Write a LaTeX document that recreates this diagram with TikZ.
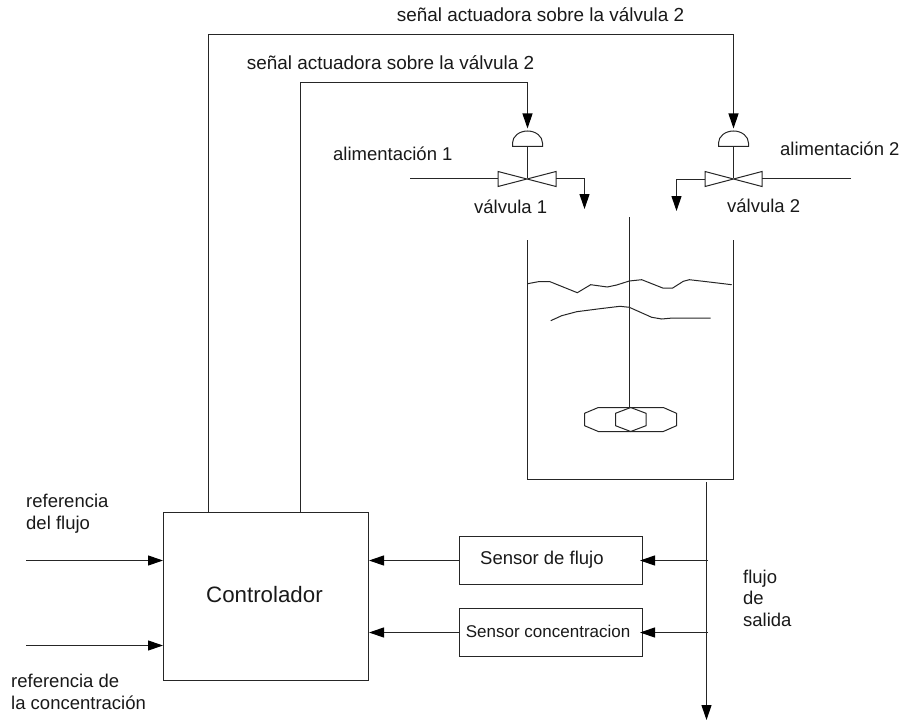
\documentclass[tikz,border=0pt]{standalone}
\usepackage{fontspec}
\setmainfont{Liberation Sans}
\usetikzlibrary{arrows.meta}
\tikzset{
  wire/.style={draw=black!85,line width=1.1pt},
  flow/.style={wire,-{Triangle[length=15pt,width=10pt]},arrows={[black]}},
  lbl/.style={inner sep=0pt,font=\fontsize{18.5}{22}\selectfont,align=left,text=black!90},
  blockbox/.style={draw=black!85,line width=1.1pt,inner sep=0pt,minimum height=48pt,minimum width=183pt},
  thin shape/.style={draw=black!85,line width=1pt}
}
\begin{document}
\begin{tikzpicture}[x=1pt,y=-1pt]
\useasboundingbox (0,0) rectangle (904,722);
% blocks
\node[draw=black!85,line width=1.1pt,minimum width=205pt,minimum height=168pt,inner sep=0pt] (ctrl) at (266,596.5) {};
\node[lbl,anchor=base west,font=\fontsize{22.3}{26}\selectfont] (ctrlt) at (206,602.7) {Controlador};
\node[blockbox] (sf) at (551,560.5) {};
\node[lbl,anchor=base west] (sft) at (480,564) {Sensor de flujo};
\node[blockbox] (sc) at (551,632.5) {};
\node[lbl,anchor=base west,font=\fontsize{17}{20}\selectfont] (sct) at (465.7,637) {Sensor concentracion};
% coordinates
\coordinate (c1) at (208.5,512.5);
\coordinate (c2) at (300.5,512.5);
\coordinate (in1) at (26,560.5);
\coordinate (in2) at (26,645.5);
\coordinate (ctrlA) at (163,560.5);
\coordinate (ctrlB) at (163,645.5);
\coordinate (ctrlC) at (369,560.5);
\coordinate (ctrlD) at (369,632.5);
\coordinate (out0) at (706.5,482);
\coordinate (out1) at (706.5,720);
\coordinate (tapA) at (708,560.5);
\coordinate (tapB) at (708,632.5);
\coordinate (sfin) at (640,560.5);
\coordinate (scin) at (640,632.5);
\coordinate (dome1) at (527.5,128.5);
\coordinate (dome2) at (733.5,128.5);
% connectors
\draw[flow] (c2) -- (300.5,82.5) -- (527.5,82.5) -- (dome1);
\draw[flow] (c1) -- (208.5,34.5) -- (733.5,34.5) -- (dome2);
\draw[flow] (in1) -- (ctrlA);
\draw[flow] (in2) -- (ctrlB);
\draw[flow] (sf.west) -- (ctrlC);
\draw[flow] (sc.west) -- (ctrlD);
\draw[flow] (tapA) -- (sfin);
\draw[flow] (tapB) -- (scin);
\draw[flow] (out0) -- (out1);
% valve 1
\coordinate (v1) at (527.5,178.5);
\draw[thin shape] (498,171.5) -- (556,186.5) -- (556,171.5) -- (498,186.5) -- cycle;
\draw[thin shape] (512.5,146.5) -- (512.5,143) arc[start angle=180,end angle=360,x radius=15,y radius=12] -- (542.5,146.5) -- cycle;
\draw[wire] (527.5,146.5) -- (v1);
\draw[wire] (410,178.5) -- (498,178.5);
\draw[flow] (556,178.5) -- (584.5,178.5) -- (584.5,209);
% valve 2
\coordinate (v2) at (733.5,178.5);
\draw[thin shape] (705,171.5) -- (762,186.5) -- (762,171.5) -- (705,186.5) -- cycle;
\draw[thin shape] (718.5,146.5) -- (718.5,143) arc[start angle=180,end angle=360,x radius=15,y radius=12] -- (748.5,146.5) -- cycle;
\draw[wire] (733.5,146.5) -- (v2);
\draw[wire] (851,178.5) -- (762,178.5);
\draw[flow] (705,179.5) -- (676.5,179.5) -- (676.5,211);
% tank
\draw[wire] (527.5,240) -- (527.5,479.5) -- (733.5,479.5) -- (733.5,240);
\draw[wire] (629.5,217) -- (629.5,407.5);
\draw[thin shape] (527.7,283.7) -- (538.3,281.7) -- (550,281.7) -- (577.3,292.7) -- (590.7,284.7) -- (607.3,287) -- (616.7,285) -- (629.3,281) -- (641.7,279.7) -- (662.7,288) -- (672.7,288) -- (683.3,281.3) -- (689.3,279.7) -- (706.7,281.7) -- (731.7,284.7);
\draw[thin shape] (550.7,320.7) -- (561.7,315.7) -- (576.7,311.7) -- (600,308.7) -- (620,306.3) -- (629.3,307.3) -- (651.7,317.3) -- (661.7,319) -- (672.7,318) -- (710.7,318);
\draw[thin shape] (598.3,407.5) -- (663.3,407.5) -- (676.5,413.3) -- (676.5,425.7) -- (663.3,431.5) -- (598.3,431.5) -- (584.5,425.7) -- (584.5,413.3) -- cycle;
\draw[thin shape] (630.7,407.5) -- (646,413.3) -- (646,425.7) -- (630.7,431.5) -- (615.5,425.7) -- (615.5,413.3) -- cycle;
% labels
\node[lbl,anchor=base west,font=\fontsize{18.93}{22}\selectfont] (t1) at (396.7,22) {señal actuadora sobre la válvula 2};
\node[lbl,anchor=base west,font=\fontsize{18.93}{22}\selectfont] (t2) at (246.7,69.5) {señal actuadora sobre la válvula 2};
\node[lbl,anchor=base west] (a1) at (333,161) {alimentación 1};
\node[lbl,anchor=base west] (a2) at (780,156) {alimentación 2};
\node[lbl,anchor=base west] (v1t) at (474,213) {válvula 1};
\node[lbl,anchor=base west] (v2t) at (727,212) {válvula 2};
\node[lbl,anchor=base west] (r1) at (26,507) {referencia};
\node[lbl,anchor=base west] (r1b) at (26,529) {del flujo};
\node[lbl,anchor=base west] (r2) at (11,687) {referencia de};
\node[lbl,anchor=base west] (r2b) at (11,709) {la concentración};
\node[lbl,anchor=base west] (f1) at (743,583) {flujo};
\node[lbl,anchor=base west] (f2) at (743,604) {de};
\node[lbl,anchor=base west] (f3) at (743,626) {salida};
\end{tikzpicture}
\end{document}
